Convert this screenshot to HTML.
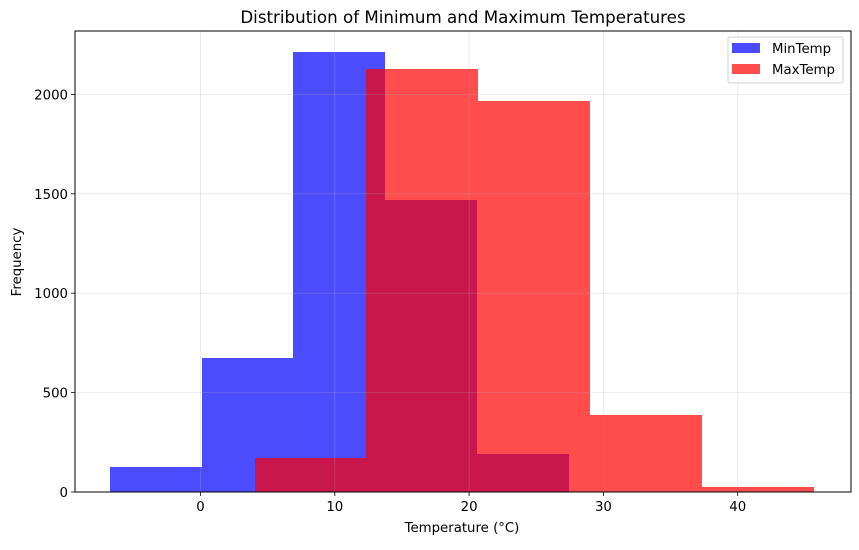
<!DOCTYPE html>
<html><head><meta charset="utf-8"><style>
body{margin:0;background:#fff;}
svg text{font-family:"DejaVu Sans","Liberation Sans",sans-serif;fill:#000;}
</style></head><body>
<svg width="859" height="545" viewBox="0 0 859 545" xmlns="http://www.w3.org/2000/svg">
<rect width="859" height="545" fill="#fff"/>
<g fill="#0000ff" fill-opacity="0.7">
<rect x="110" y="467" width="92" height="25"/>
<rect x="202" y="358" width="91" height="134"/>
<rect x="293" y="52" width="92" height="440"/>
<rect x="385" y="200" width="92" height="292"/>
<rect x="477" y="454" width="92" height="38"/>
</g>
<g fill="#ff0000" fill-opacity="0.7">
<rect x="255" y="458" width="111" height="34"/>
<rect x="366" y="69" width="112" height="423"/>
<rect x="478" y="101" width="112" height="391"/>
<rect x="590" y="415" width="112" height="77"/>
<rect x="702" y="487" width="112" height="5"/>
</g>
<g stroke="#b0b0b0" stroke-opacity="0.3" stroke-width="0.8">
<line x1="200.5" y1="31" x2="200.5" y2="492"/>
<line x1="334.8" y1="31" x2="334.8" y2="492"/>
<line x1="469.1" y1="31" x2="469.1" y2="492"/>
<line x1="603.4" y1="31" x2="603.4" y2="492"/>
<line x1="737.7" y1="31" x2="737.7" y2="492"/>
<line x1="75" y1="492" x2="851" y2="492"/>
<line x1="75" y1="392.6" x2="851" y2="392.6"/>
<line x1="75" y1="293.2" x2="851" y2="293.2"/>
<line x1="75" y1="193.8" x2="851" y2="193.8"/>
<line x1="75" y1="94.4" x2="851" y2="94.4"/>
</g>
<rect x="75" y="31" width="776" height="461" fill="none" stroke="#000" stroke-width="1"/>
<g stroke="#000" stroke-width="0.8">
<line x1="200.5" y1="492" x2="200.5" y2="496"/>
<line x1="334.8" y1="492" x2="334.8" y2="496"/>
<line x1="469.1" y1="492" x2="469.1" y2="496"/>
<line x1="603.4" y1="492" x2="603.4" y2="496"/>
<line x1="737.7" y1="492" x2="737.7" y2="496"/>
<line x1="71" y1="492" x2="75" y2="492"/>
<line x1="71" y1="392.6" x2="75" y2="392.6"/>
<line x1="71" y1="293.2" x2="75" y2="293.2"/>
<line x1="71" y1="193.8" x2="75" y2="193.8"/>
<line x1="71" y1="94.4" x2="75" y2="94.4"/>
</g>
<g font-size="13.3" text-anchor="middle">
<text x="200.5" y="511">0</text>
<text x="334.8" y="511">10</text>
<text x="469.1" y="511">20</text>
<text x="603.4" y="511">30</text>
<text x="737.7" y="511">40</text>
</g>
<g font-size="13.3" text-anchor="end">
<text x="68" y="497">0</text>
<text x="68" y="397.6">500</text>
<text x="68" y="298.2">1000</text>
<text x="68" y="198.8">1500</text>
<text x="68" y="99.4">2000</text>
</g>
<text x="462" y="532" font-size="13.3" text-anchor="middle">Temperature (°C)</text>
<text transform="translate(21,262) rotate(-90)" font-size="13.3" text-anchor="middle">Frequency</text>
<text x="463" y="23" font-size="16.7" text-anchor="middle">Distribution of Minimum and Maximum Temperatures</text>
<rect x="728" y="37" width="115" height="46" rx="2" fill="#fff" fill-opacity="0.8" stroke="#d0d0d0"/>
<rect x="732" y="43" width="28" height="10" fill="#0000ff" fill-opacity="0.7"/>
<rect x="732" y="64" width="28" height="10" fill="#ff0000" fill-opacity="0.7"/>
<text x="772" y="53" font-size="13.3">MinTemp</text>
<text x="772" y="74" font-size="13.3">MaxTemp</text>
</svg>
</body></html>
